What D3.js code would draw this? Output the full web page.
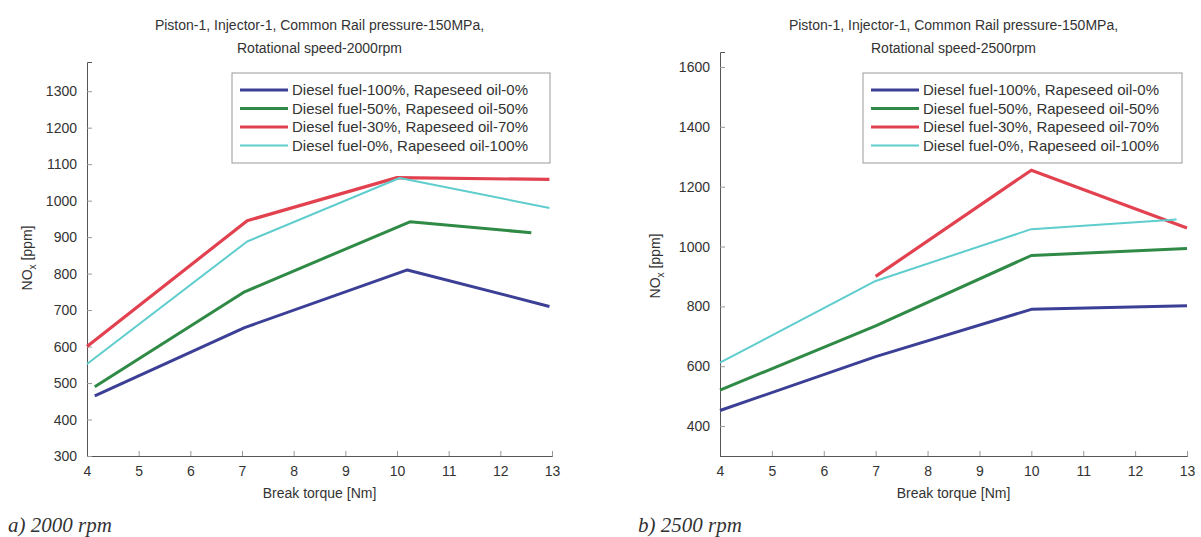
<!DOCTYPE html>
<html>
<head>
<meta charset="utf-8">
<script src="https://cdn.jsdelivr.net/npm/d3@7"></script>
<style>
  body { margin: 0; background: #fff; }
  svg { display: block; }
  text { font-family: "Liberation Sans", Arial, sans-serif; fill: #333; }
</style>
</head>
<body>
<svg id="chart" width="1201" height="537"></svg>
<script>
// x ticks (break torque, Nm)
const torqueTicks = [4, 5, 6, 7, 8, 9, 10, 11, 12, 13];
const yTicks2000 = [300, 400, 500, 600, 700, 800, 900, 1000, 1100, 1200, 1300];
const yTicks2500 = [400, 600, 800, 1000, 1200, 1400, 1600];

const seriesNames = [
  "Diesel fuel-100%, Rapeseed oil-0%",
  "Diesel fuel-50%, Rapeseed oil-50%",
  "Diesel fuel-30%, Rapeseed oil-70%",
  "Diesel fuel-0%, Rapeseed oil-100%"
];
const seriesColors = ["#3c3f96", "#2f8a45", "#e2414f", "#5fcdcd"];
const seriesWidths = [3, 3, 3.2, 2];

// NOx [ppm] vs torque, 2000 rpm
const nox2000_d100 = [[4.15, 465], [7.05, 652], [10.2, 810], [12.95, 710]];
const nox2000_d50 = [[4.15, 490], [7.05, 750], [10.25, 942], [12.6, 912]];
const nox2000_d30 = [[4.0, 600], [7.1, 945], [10.0, 1063], [12.95, 1058]];
const nox2000_d0 = [[4.0, 552], [7.1, 888], [10.05, 1062], [12.95, 980]];

// NOx [ppm] vs torque, 2500 rpm
const nox2500_d100 = [[4, 452], [7, 632], [10, 790], [13, 802]];
const nox2500_d50 = [[4, 520], [7, 735], [10, 970], [13, 993]];
const nox2500_d30 = [[7, 900], [10, 1255], [13, 1062]];
const nox2500_d0 = [[4, 612], [7, 885], [10, 1058], [12.8, 1090]];

const svg = d3.select("#chart");

function drawPanel(opts) {
  const g = svg.append("g");
  const x = d3.scaleLinear().domain([4, 13]).range([opts.left, opts.right]);
  const y = d3.scaleLinear().domain(opts.yDomain).range([456, opts.top]);

  // axes, ticks pointing inward like matlab
  const xAxis = d3.axisBottom(x).tickValues(torqueTicks).tickFormat(d3.format("d")).tickSize(-5).tickPadding(10);
  const yAxis = d3.axisLeft(y).tickValues(opts.yTicks).tickFormat(d3.format("d")).tickSize(-5).tickPadding(10);
  const gx = g.append("g").attr("transform", "translate(0,456)").call(xAxis);
  const gy = g.append("g").attr("transform", `translate(${opts.left},0)`).call(yAxis);
  [gx, gy].forEach(a => {
    a.select(".domain").attr("stroke", "#555");
    a.selectAll(".tick line").attr("stroke", "#999");
    a.selectAll(".tick text").style("font-size", "14px").style("font-family", "Liberation Sans, Arial, sans-serif").attr("fill", "#333");
  });

  // lines
  const line = d3.line().x(d => x(d[0])).y(d => y(d[1]));
  opts.series.forEach((s, i) => {
    g.append("path").datum(s)
      .attr("d", line)
      .attr("fill", "none")
      .attr("stroke", seriesColors[i])
      .attr("stroke-width", seriesWidths[i])
      .attr("stroke-linejoin", "round");
  });

  // title
  const cx = (opts.left + opts.right) / 2;
  g.append("text").attr("x", cx).attr("y", 30).attr("text-anchor", "middle")
    .style("font-size", "14px").text("Piston-1, Injector-1, Common Rail pressure-150MPa,");
  g.append("text").attr("x", cx).attr("y", 53).attr("text-anchor", "middle")
    .style("font-size", "14px").text(opts.speed);

  // axis labels
  g.append("text").attr("x", cx).attr("y", 498).attr("text-anchor", "middle")
    .style("font-size", "14px").text("Break torque [Nm]");
  const yl = g.append("text")
    .attr("transform", `translate(${opts.ylabelX},${opts.ylabelY}) rotate(-90)`)
    .attr("text-anchor", "middle").style("font-size", "14px");
  yl.append("tspan").text("NO");
  yl.append("tspan").attr("dy", 4).style("font-size", "10px").text("x");
  yl.append("tspan").attr("dy", -4).text(" [ppm]");

  // legend
  const lg = g.append("g").attr("transform", `translate(${opts.legendX},73)`);
  lg.append("rect").attr("width", opts.legendW).attr("height", 90)
    .attr("fill", "#fff").attr("stroke", "#999");
  seriesNames.forEach((name, i) => {
    const ly = 17 + i * 18.5;
    lg.append("line").attr("x1", 8).attr("x2", 56).attr("y1", ly).attr("y2", ly)
      .attr("stroke", seriesColors[i]).attr("stroke-width", seriesWidths[i]);
    lg.append("text").attr("x", 60).attr("y", ly + 5).style("font-size", "15px").text(name);
  });

  // caption
  svg.append("text").attr("x", opts.captionX).attr("y", 532)
    .style("font-family", "Liberation Serif, Times New Roman, serif")
    .style("font-style", "italic").style("font-size", "21px").attr("fill", "#111")
    .text(opts.caption);
}

drawPanel({
  left: 87, right: 552, top: 62, yDomain: [300, 1380], yTicks: yTicks2000,
  series: [nox2000_d100, nox2000_d50, nox2000_d30, nox2000_d0],
  speed: "Rotational speed-2000rpm", ylabelX: 32, ylabelY: 258,
  legendX: 232, legendW: 318, caption: "a) 2000 rpm", captionX: 8
});
drawPanel({
  left: 720, right: 1187, top: 52, yDomain: [300, 1650], yTicks: yTicks2500,
  series: [nox2500_d100, nox2500_d50, nox2500_d30, nox2500_d0],
  speed: "Rotational speed-2500rpm", ylabelX: 660, ylabelY: 266,
  legendX: 863, legendW: 319, caption: "b) 2500 rpm", captionX: 638
});
</script>
</body>
</html>
